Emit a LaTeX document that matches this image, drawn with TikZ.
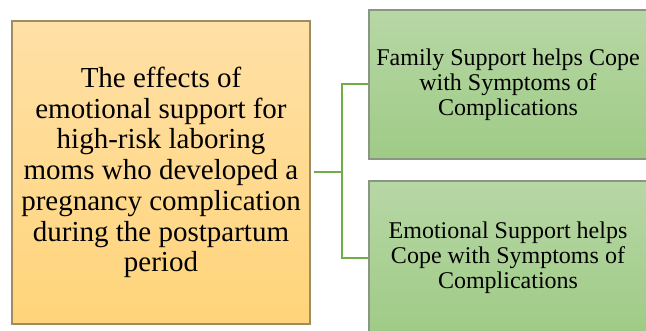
\documentclass[tikz,border=0pt]{standalone}
\usepackage{fontspec}
\setmainfont{Liberation Serif}
\definecolor{orangetop}{HTML}{FFE0A6}
\definecolor{orangebot}{HTML}{FFD47A}
\definecolor{orangeline}{HTML}{A08C62}
\definecolor{greentop}{HTML}{B7D7A5}
\definecolor{greenbot}{HTML}{9FCB86}
\definecolor{greenline}{HTML}{8A9684}
\definecolor{linkgreen}{HTML}{70AD47}
\begin{document}
\begin{tikzpicture}[x=1pt,y=-1pt]
            \tikzstyle{mainbox}=[draw=orangeline, line width=1.3pt, top color=orangetop, bottom color=orangebot, minimum width=298pt, minimum height=303pt, align=center, inner sep=0pt, font=\rmfamily\fontsize{29}{30.7}\selectfont]
            \tikzstyle{effectbox}=[draw=greenline, line width=1.3pt, top color=greentop, bottom color=greenbot, minimum width=278pt, align=center, inner sep=0pt, font=\rmfamily\fontsize{24}{25}\selectfont]
            \tikzstyle{link}=[draw=linkgreen, line width=2pt]
            \useasboundingbox (0,0) rectangle (646,331);
            \clip (0,0) rectangle (646,331);
            \node [mainbox] (effects) at (161,172.5) {The effects of\\ emotional support for\\ high-risk laboring\\ moms who developed a\\ pregnancy complication\\ during the postpartum\\ period};
            \node [effectbox, minimum height=149pt] (family) at (508,84.5) {Family Support helps Cope\\ with Symptoms of\\ Complications};
            \node [effectbox, minimum height=154pt] (emotional) at (508,258) {Emotional Support helps\\ Cope with Symptoms of\\ Complications};
            \coordinate (fork) at (342,172.5);
            \draw [link, shorten <=3pt] (effects.east) -- (fork);
            \draw [link] (fork) |- (family.west);
            \draw [link] (fork) |- (emotional.west);
        \end{tikzpicture}
\end{document}
